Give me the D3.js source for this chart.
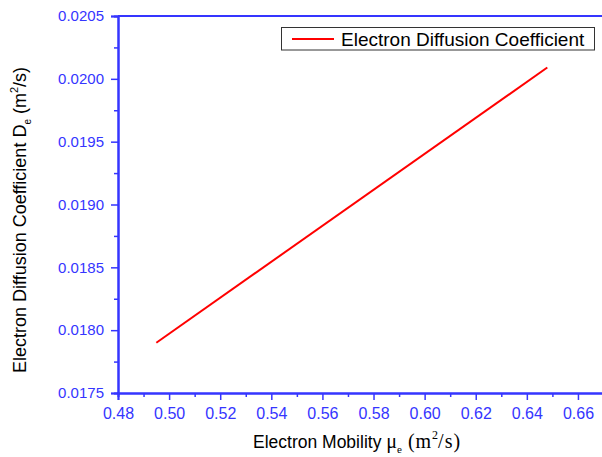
<!DOCTYPE html>
<html lang="en">
<head>
<meta charset="UTF-8">
<title>Electron Diffusion Coefficient</title>
<script src="https://cdnjs.cloudflare.com/ajax/libs/d3/7.8.5/d3.min.js"></script>
<style>
    body { margin: 0; background: #fff; }
    svg { display: block; font-family: "Liberation Sans", Arial, sans-serif; }
</style>
</head>
<body>
<svg id="chart" width="602" height="457"></svg>
<script>
// data
var mobility = [0.495, 0.648];
var diffusion = [0.01790, 0.02009];
var xTicks = [0.48, 0.50, 0.52, 0.54, 0.56, 0.58, 0.60, 0.62, 0.64, 0.66];
var yTicks = [0.0175, 0.0180, 0.0185, 0.0190, 0.0195, 0.0200, 0.0205];
var seriesName = 'Electron Diffusion Coefficient';

var axisColor = '#3535ff';
var serif = '"Liberation Serif", "Times New Roman", serif';
var svg = d3.select('#chart');

var x = d3.scaleLinear().domain([0.48, 0.67]).range([118, 603.5]);
var y = d3.scaleLinear().domain([0.0175, 0.0205]).range([393, 16]);

// minor ticks halfway between the majors
var xMinor = d3.range(xTicks.length).map(function(i) { return xTicks[i] + 0.01; });
var yMinor = d3.range(yTicks.length - 1).map(function(i) { return yTicks[i] + 0.00025; });

var xAxis = svg.append('g')
    .attr('transform', 'translate(0,393)')
    .call(d3.axisBottom(x).tickValues(xTicks).tickFormat(d3.format('.2f')).tickSize(7).tickPadding(8));
var xAxisMinor = svg.append('g')
    .attr('transform', 'translate(0,393)')
    .call(d3.axisBottom(x).tickValues(xMinor).tickFormat('').tickSize(4));

var yAxis = svg.append('g')
    .attr('transform', 'translate(118,0)')
    .call(d3.axisLeft(y).tickValues(yTicks).tickFormat(d3.format('.4f')).tickSize(7).tickPadding(7));
var yAxisMinor = svg.append('g')
    .attr('transform', 'translate(118,0)')
    .call(d3.axisLeft(y).tickValues(yMinor).tickFormat('').tickSize(4));

// top frame line
svg.append('line')
    .attr('x1', 118).attr('x2', 602)
    .attr('y1', y(0.0205)).attr('y2', y(0.0205))
    .attr('stroke', axisColor).attr('stroke-width', 2);

[xAxis, xAxisMinor, yAxis, yAxisMinor].forEach(function(g) {
    g.select('.domain').attr('stroke', axisColor).attr('stroke-width', 2);
    g.selectAll('.tick line').attr('stroke', axisColor).attr('stroke-width', 1.5);
    g.selectAll('.tick text')
        .attr('fill', axisColor)
        .style('font-family', '"Liberation Sans", Arial, sans-serif');
});
xAxis.selectAll('.tick text').style('font-size', '16px');
yAxis.selectAll('.tick text').style('font-size', '15px');

// data line
var line = d3.line()
    .x(function(d, i) { return x(mobility[i]); })
    .y(function(d) { return y(d); });

svg.append('path')
    .datum(diffusion)
    .attr('d', line)
    .attr('fill', 'none')
    .attr('stroke', '#ff0000')
    .attr('stroke-width', 2);

// legend
var legend = svg.append('g');
legend.append('rect')
    .attr('x', 281.5).attr('y', 27.5)
    .attr('width', 313).attr('height', 22.5)
    .attr('fill', '#fff').attr('stroke', '#333').attr('stroke-width', 1);
legend.append('line')
    .attr('x1', 292).attr('x2', 334)
    .attr('y1', 39).attr('y2', 39)
    .attr('stroke', '#ff0000').attr('stroke-width', 2);
legend.append('text')
    .attr('x', 341).attr('y', 46)
    .style('font-size', '19px')
    .attr('fill', '#000')
    .text(seriesName);

// x axis title
var xt = svg.append('text')
    .attr('x', 253).attr('y', 448)
    .style('font-size', '17.5px')
    .attr('fill', '#000');
xt.append('tspan').text('Electron Mobility ');
xt.append('tspan').style('font-family', serif).style('font-size', '20px').text('\u03bc');
xt.append('tspan').style('font-family', serif).style('font-size', '11px').attr('dy', 5).text('e');
xt.append('tspan').style('font-family', serif).style('font-size', '20px').attr('dy', -5)
    .style('letter-spacing', '1px').text(' (m');
xt.append('tspan').style('font-family', serif).style('font-size', '12px').attr('dy', -9).text('2');
xt.append('tspan').style('font-family', serif).style('font-size', '20px').attr('dy', 9)
    .style('letter-spacing', '1px').text('/s)');

// y axis title
var yt = svg.append('text')
    .attr('transform', 'translate(26,220) rotate(-90)')
    .attr('text-anchor', 'middle')
    .style('font-size', '18px')
    .attr('fill', '#000');
yt.append('tspan').text('Electron Diffusion Coefficient D');
yt.append('tspan').style('font-size', '10px').attr('dy', 5).text('e');
yt.append('tspan').attr('dy', -5).text(' (m');
yt.append('tspan').style('font-size', '11px').attr('dy', -8).text('2');
yt.append('tspan').attr('dy', 8).text('/s)');
</script>
</body>
</html>
